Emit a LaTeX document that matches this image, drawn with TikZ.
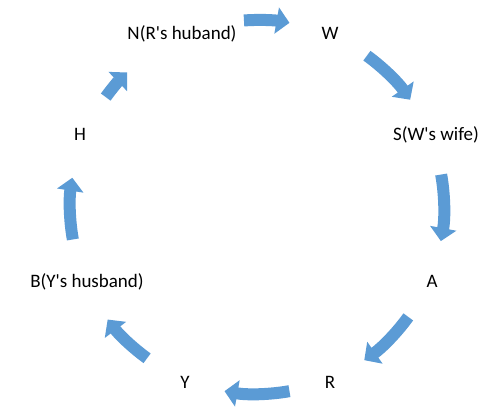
\documentclass[tikz,border=0pt]{standalone}
\usepackage{fontspec}
\setmainfont{Carlito}
\usetikzlibrary{arrows.meta}
\definecolor{arrowblue}{HTML}{5B9BD5}
\begin{document}
\begin{tikzpicture}[x=1pt,y=1pt,
  lbl/.style={font=\fontsize{19}{22}\selectfont, anchor=base, inner sep=0pt},
  cyc/.style={line width=12pt, draw=arrowblue, -{Triangle[width=26pt,length=13pt]}}]
\useasboundingbox[fill=white] (0,0) rectangle (493,417);
\coordinate (c) at (257,210);
\node[lbl] (n) at (182,377) {N(R\textquotesingle s huband)};
\node[lbl] (w) at (330,377) {W};
\node[lbl] (s) at (436,276) {S(W\textquotesingle s wife)};
\node[lbl] (a) at (432,129) {A};
\node[lbl] (r) at (330,28) {R};
\node[lbl] (y) at (185,28) {Y};
\node[lbl] (b) at (87,129) {B(Y\textquotesingle s husband)};
\node[lbl] (h) at (80,276) {H};
\draw[cyc] ([shift={(94:187)}]c) arc[start angle=94, end angle=80, radius=187];
\draw[cyc] ([shift={(54:187)}]c) arc[start angle=54, end angle=35, radius=187];
\draw[cyc] ([shift={(10:187)}]c) arc[start angle=10, end angle=-10.5, radius=187];
\draw[cyc] ([shift={(-36:187)}]c) arc[start angle=-36, end angle=-55, radius=187];
\draw[cyc] ([shift={(-80:187)}]c) arc[start angle=-80, end angle=-100, radius=187];
\draw[cyc] ([shift={(-126:187)}]c) arc[start angle=-126, end angle=-143, radius=187];
\draw[cyc] ([shift={(-170:187)}]c) arc[start angle=-170, end angle=-189, radius=187];
\draw[cyc] ([shift={(144:187)}]c) arc[start angle=144, end angle=134, radius=187];
\end{tikzpicture}
\end{document}
